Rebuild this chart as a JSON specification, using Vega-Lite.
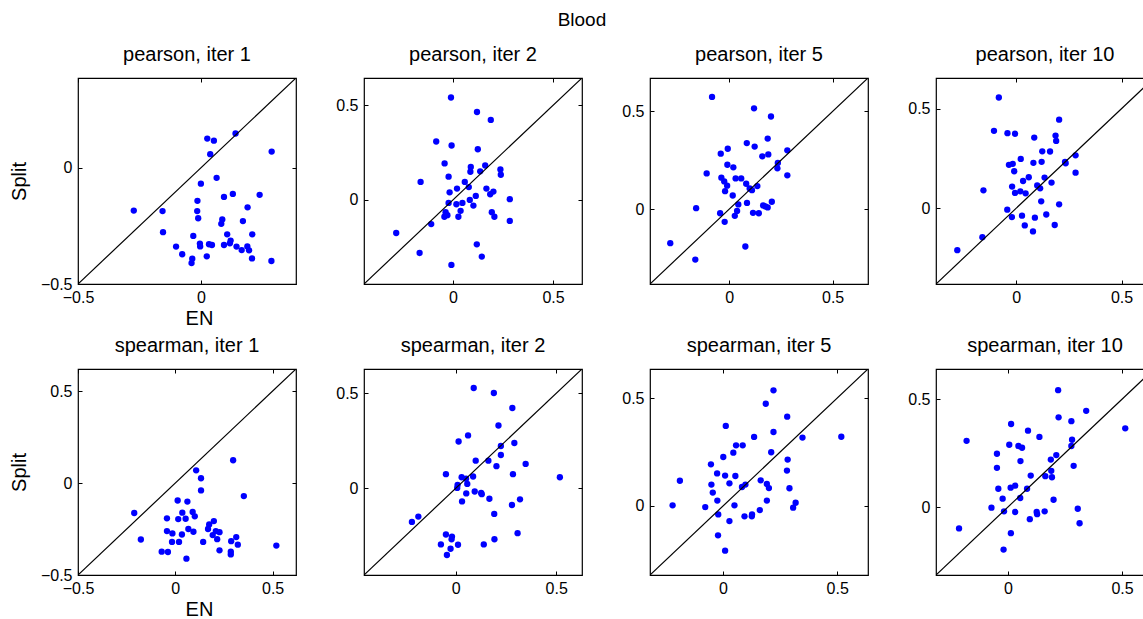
{
"$schema": "https://vega.github.io/schema/vega-lite/v6.json",
"autosize": {"type": "none"},
"padding": {"left": 78, "top": 78, "right": 1065, "bottom": 541},
"background": "white",
"title": {"text": "Blood", "anchor": "middle", "fontSize": 19, "offset": 14},
"datasets": {
"pts": [
{"panel":1,"EN":-0.273,"Split":-0.184},{"panel":1,"EN":-0.156,"Split":-0.186},{"panel":1,"EN":-0.154,"Split":-0.277},{"panel":1,"EN":-0.101,"Split":-0.339},{"panel":1,"EN":-0.076,"Split":-0.372},{"panel":1,"EN":-0.035,"Split":-0.391},{"panel":1,"EN":-0.038,"Split":-0.41},{"panel":1,"EN":-0.031,"Split":-0.293},{"panel":1,"EN":-0.004,"Split":-0.326},{"panel":1,"EN":-0.003,"Split":-0.338},{"panel":1,"EN":-0.015,"Split":-0.186},{"panel":1,"EN":-0.011,"Split":-0.217},{"panel":1,"EN":-0.014,"Split":-0.142},{"panel":1,"EN":0.0,"Split":-0.068},{"panel":1,"EN":0.026,"Split":0.126},{"panel":1,"EN":0.053,"Split":0.117},{"panel":1,"EN":0.038,"Split":0.059},{"panel":1,"EN":0.141,"Split":0.148},{"panel":1,"EN":0.064,"Split":-0.043},{"panel":1,"EN":0.024,"Split":-0.381},{"panel":1,"EN":0.033,"Split":-0.329},{"panel":1,"EN":0.045,"Split":-0.332},{"panel":1,"EN":0.094,"Split":-0.125},{"panel":1,"EN":0.13,"Split":-0.112},{"panel":1,"EN":0.087,"Split":-0.222},{"panel":1,"EN":0.083,"Split":-0.241},{"panel":1,"EN":0.107,"Split":-0.286},{"panel":1,"EN":0.094,"Split":-0.332},{"panel":1,"EN":0.121,"Split":-0.313},{"panel":1,"EN":0.118,"Split":-0.325},{"panel":1,"EN":0.145,"Split":-0.339},{"panel":1,"EN":0.166,"Split":-0.354},{"panel":1,"EN":0.171,"Split":-0.229},{"panel":1,"EN":0.19,"Split":-0.17},{"panel":1,"EN":0.189,"Split":-0.338},{"panel":1,"EN":0.196,"Split":-0.355},{"panel":1,"EN":0.208,"Split":-0.39},{"panel":1,"EN":0.209,"Split":-0.286},{"panel":1,"EN":0.239,"Split":-0.116},{"panel":1,"EN":0.287,"Split":-0.401},{"panel":1,"EN":0.288,"Split":0.07},
{"panel":2,"EN":-0.01,"Split":0.542},{"panel":2,"EN":0.12,"Split":0.465},{"panel":2,"EN":0.189,"Split":0.423},{"panel":2,"EN":-0.084,"Split":0.309},{"panel":2,"EN":-0.007,"Split":0.288},{"panel":2,"EN":0.124,"Split":0.268},{"panel":2,"EN":-0.042,"Split":0.193},{"panel":2,"EN":0.089,"Split":0.174},{"panel":2,"EN":0.087,"Split":0.149},{"panel":2,"EN":0.161,"Split":0.182},{"panel":2,"EN":0.136,"Split":0.151},{"panel":2,"EN":0.237,"Split":0.161},{"panel":2,"EN":0.239,"Split":0.133},{"panel":2,"EN":-0.022,"Split":0.123},{"panel":2,"EN":-0.162,"Split":0.095},{"panel":2,"EN":0.059,"Split":0.095},{"panel":2,"EN":0.079,"Split":0.068},{"panel":2,"EN":0.02,"Split":0.06},{"panel":2,"EN":0.167,"Split":0.06},{"panel":2,"EN":-0.017,"Split":0.04},{"panel":2,"EN":0.186,"Split":0.03},{"panel":2,"EN":0.202,"Split":0.044},{"panel":2,"EN":0.114,"Split":0.021},{"panel":2,"EN":0.084,"Split":0.0},{"panel":2,"EN":0.284,"Split":0.004},{"panel":2,"EN":-0.022,"Split":-0.016},{"panel":2,"EN":0.017,"Split":-0.023},{"panel":2,"EN":0.047,"Split":-0.016},{"panel":2,"EN":0.102,"Split":-0.03},{"panel":2,"EN":0.038,"Split":-0.058},{"panel":2,"EN":-0.037,"Split":-0.065},{"panel":2,"EN":-0.028,"Split":-0.081},{"panel":2,"EN":-0.043,"Split":-0.089},{"panel":2,"EN":0.027,"Split":-0.089},{"panel":2,"EN":0.194,"Split":-0.065},{"panel":2,"EN":0.207,"Split":-0.089},{"panel":2,"EN":0.284,"Split":-0.111},{"panel":2,"EN":-0.109,"Split":-0.128},{"panel":2,"EN":-0.284,"Split":-0.175},{"panel":2,"EN":-0.167,"Split":-0.281},{"panel":2,"EN":0.119,"Split":-0.235},{"panel":2,"EN":0.144,"Split":-0.3},{"panel":2,"EN":-0.008,"Split":-0.344},
{"panel":3,"EN":-0.083,"Split":0.574},{"panel":3,"EN":0.12,"Split":0.516},{"panel":3,"EN":0.202,"Split":0.474},{"panel":3,"EN":0.186,"Split":0.361},{"panel":3,"EN":0.085,"Split":0.338},{"panel":3,"EN":0.123,"Split":0.32},{"panel":3,"EN":-0.007,"Split":0.309},{"panel":3,"EN":-0.041,"Split":0.284},{"panel":3,"EN":0.281,"Split":0.301},{"panel":3,"EN":0.16,"Split":0.27},{"panel":3,"EN":0.189,"Split":0.28},{"panel":3,"EN":0.235,"Split":0.236},{"panel":3,"EN":0.233,"Split":0.209},{"panel":3,"EN":0.281,"Split":0.173},{"panel":3,"EN":-0.009,"Split":0.227},{"panel":3,"EN":0.02,"Split":0.214},{"panel":3,"EN":-0.109,"Split":0.183},{"panel":3,"EN":-0.038,"Split":0.161},{"panel":3,"EN":0.031,"Split":0.157},{"panel":3,"EN":0.058,"Split":0.157},{"panel":3,"EN":-0.024,"Split":0.142},{"panel":3,"EN":-0.01,"Split":0.12},{"panel":3,"EN":0.082,"Split":0.13},{"panel":3,"EN":0.136,"Split":0.118},{"panel":3,"EN":0.099,"Split":0.106},{"panel":3,"EN":0.11,"Split":0.097},{"panel":3,"EN":-0.02,"Split":0.092},{"panel":3,"EN":0.017,"Split":0.07},{"panel":3,"EN":0.086,"Split":0.032},{"panel":3,"EN":0.044,"Split":0.024},{"panel":3,"EN":0.164,"Split":0.019},{"panel":3,"EN":0.175,"Split":0.014},{"panel":3,"EN":0.206,"Split":0.038},{"panel":3,"EN":0.186,"Split":0.009},{"panel":3,"EN":-0.16,"Split":0.005},{"panel":3,"EN":0.038,"Split":-0.009},{"panel":3,"EN":-0.044,"Split":-0.021},{"panel":3,"EN":0.115,"Split":-0.019},{"panel":3,"EN":0.143,"Split":-0.021},{"panel":3,"EN":0.027,"Split":-0.034},{"panel":3,"EN":-0.022,"Split":-0.065},{"panel":3,"EN":0.078,"Split":-0.191},{"panel":3,"EN":-0.285,"Split":-0.174},{"panel":3,"EN":-0.164,"Split":-0.258},
{"panel":4,"EN":-0.082,"Split":0.556},{"panel":4,"EN":0.204,"Split":0.445},{"panel":4,"EN":-0.105,"Split":0.389},{"panel":4,"EN":-0.041,"Split":0.377},{"panel":4,"EN":-0.005,"Split":0.374},{"panel":4,"EN":0.086,"Split":0.355},{"panel":4,"EN":0.187,"Split":0.365},{"panel":4,"EN":0.19,"Split":0.338},{"panel":4,"EN":0.124,"Split":0.286},{"panel":4,"EN":0.161,"Split":0.285},{"panel":4,"EN":0.282,"Split":0.266},{"panel":4,"EN":0.022,"Split":0.248},{"panel":4,"EN":-0.034,"Split":0.218},{"panel":4,"EN":-0.016,"Split":0.223},{"panel":4,"EN":0.082,"Split":0.228},{"panel":4,"EN":0.121,"Split":0.233},{"panel":4,"EN":0.232,"Split":0.233},{"panel":4,"EN":0.235,"Split":0.226},{"panel":4,"EN":-0.009,"Split":0.186},{"panel":4,"EN":0.282,"Split":0.179},{"panel":4,"EN":0.06,"Split":0.156},{"panel":4,"EN":0.135,"Split":0.154},{"panel":4,"EN":0.033,"Split":0.137},{"panel":4,"EN":0.168,"Split":0.129},{"panel":4,"EN":-0.019,"Split":0.109},{"panel":4,"EN":0.1,"Split":0.115},{"panel":4,"EN":0.114,"Split":0.1},{"panel":4,"EN":-0.155,"Split":0.09},{"panel":4,"EN":-0.005,"Split":0.077},{"panel":4,"EN":0.02,"Split":0.085},{"panel":4,"EN":0.045,"Split":0.075},{"panel":4,"EN":0.119,"Split":0.035},{"panel":4,"EN":0.204,"Split":0.02},{"panel":4,"EN":-0.042,"Split":-0.007},{"panel":4,"EN":-0.02,"Split":-0.044},{"panel":4,"EN":0.028,"Split":-0.037},{"panel":4,"EN":0.089,"Split":-0.047},{"panel":4,"EN":0.143,"Split":-0.031},{"panel":4,"EN":0.041,"Split":-0.086},{"panel":4,"EN":0.183,"Split":-0.084},{"panel":4,"EN":0.08,"Split":-0.116},{"panel":4,"EN":-0.16,"Split":-0.145},{"panel":4,"EN":-0.279,"Split":-0.21},
{"panel":5,"EN":0.297,"Split":0.124},{"panel":5,"EN":0.107,"Split":0.069},{"panel":5,"EN":0.132,"Split":0.026},{"panel":5,"EN":0.132,"Split":-0.04},{"panel":5,"EN":0.352,"Split":-0.071},{"panel":5,"EN":0.012,"Split":-0.095},{"panel":5,"EN":0.062,"Split":-0.101},{"panel":5,"EN":-0.211,"Split":-0.163},{"panel":5,"EN":0.036,"Split":-0.161},{"panel":5,"EN":0.089,"Split":-0.157},{"panel":5,"EN":0.1,"Split":-0.181},{"panel":5,"EN":-0.043,"Split":-0.192},{"panel":5,"EN":0.015,"Split":-0.196},{"panel":5,"EN":0.053,"Split":-0.194},{"panel":5,"EN":0.198,"Split":-0.207},{"panel":5,"EN":0.174,"Split":-0.225},{"panel":5,"EN":0.168,"Split":-0.25},{"panel":5,"EN":0.208,"Split":-0.261},{"panel":5,"EN":0.227,"Split":-0.267},{"panel":5,"EN":0.067,"Split":-0.25},{"panel":5,"EN":0.093,"Split":-0.265},{"panel":5,"EN":-0.043,"Split":-0.261},{"panel":5,"EN":-0.015,"Split":-0.274},{"panel":5,"EN":0.034,"Split":-0.28},{"panel":5,"EN":0.192,"Split":-0.283},{"panel":5,"EN":0.215,"Split":-0.305},{"panel":5,"EN":0.313,"Split":-0.294},{"panel":5,"EN":0.287,"Split":-0.316},{"panel":5,"EN":0.321,"Split":-0.335},{"panel":5,"EN":-0.177,"Split":-0.307},{"panel":5,"EN":-0.017,"Split":-0.32},{"panel":5,"EN":0.019,"Split":-0.32},{"panel":5,"EN":0.143,"Split":-0.32},{"panel":5,"EN":0.227,"Split":-0.366},{"panel":5,"EN":0.285,"Split":-0.373},{"panel":5,"EN":0.285,"Split":-0.388},{"panel":5,"EN":-0.07,"Split":-0.373},{"panel":5,"EN":-0.038,"Split":-0.375},{"panel":5,"EN":0.057,"Split":-0.411},{"panel":5,"EN":0.519,"Split":-0.34},
{"panel":6,"EN":0.09,"Split":0.528},{"panel":6,"EN":0.19,"Split":0.502},{"panel":6,"EN":0.282,"Split":0.423},{"panel":6,"EN":0.213,"Split":0.331},{"panel":6,"EN":0.062,"Split":0.279},{"panel":6,"EN":0.015,"Split":0.247},{"panel":6,"EN":0.292,"Split":0.239},{"panel":6,"EN":0.225,"Split":0.223},{"panel":6,"EN":0.225,"Split":0.176},{"panel":6,"EN":0.1,"Split":0.146},{"panel":6,"EN":0.163,"Split":0.146},{"panel":6,"EN":0.203,"Split":0.117},{"panel":6,"EN":0.348,"Split":0.129},{"panel":6,"EN":-0.048,"Split":0.075},{"panel":6,"EN":0.285,"Split":0.075},{"panel":6,"EN":0.518,"Split":0.059},{"panel":6,"EN":0.03,"Split":0.059},{"panel":6,"EN":0.087,"Split":0.063},{"panel":6,"EN":0.052,"Split":0.051},{"panel":6,"EN":0.058,"Split":0.024},{"panel":6,"EN":0.01,"Split":0.019},{"panel":6,"EN":0.008,"Split":0.003},{"panel":6,"EN":0.095,"Split":-0.016},{"panel":6,"EN":0.127,"Split":-0.024},{"panel":6,"EN":0.13,"Split":-0.03},{"panel":6,"EN":0.053,"Split":-0.026},{"panel":6,"EN":0.168,"Split":-0.054},{"panel":6,"EN":0.032,"Split":-0.068},{"panel":6,"EN":0.28,"Split":-0.087},{"panel":6,"EN":0.32,"Split":-0.057},{"panel":6,"EN":0.192,"Split":-0.134},{"panel":6,"EN":-0.185,"Split":-0.148},{"panel":6,"EN":-0.217,"Split":-0.176},{"panel":6,"EN":-0.048,"Split":-0.242},{"panel":6,"EN":-0.018,"Split":-0.253},{"panel":6,"EN":-0.02,"Split":-0.267},{"panel":6,"EN":0.308,"Split":-0.235},{"panel":6,"EN":0.193,"Split":-0.267},{"panel":6,"EN":-0.073,"Split":-0.294},{"panel":6,"EN":0.012,"Split":-0.296},{"panel":6,"EN":0.14,"Split":-0.294},{"panel":6,"EN":-0.025,"Split":-0.317},{"panel":6,"EN":-0.043,"Split":-0.35},
{"panel":7,"EN":0.221,"Split":0.536},{"panel":7,"EN":0.187,"Split":0.474},{"panel":7,"EN":0.281,"Split":0.414},{"panel":7,"EN":0.012,"Split":0.371},{"panel":7,"EN":0.221,"Split":0.343},{"panel":7,"EN":0.136,"Split":0.32},{"panel":7,"EN":0.348,"Split":0.317},{"panel":7,"EN":0.518,"Split":0.321},{"panel":7,"EN":0.057,"Split":0.281},{"panel":7,"EN":0.086,"Split":0.281},{"panel":7,"EN":0.045,"Split":0.247},{"panel":7,"EN":0.211,"Split":0.249},{"panel":7,"EN":0.001,"Split":0.227},{"panel":7,"EN":0.283,"Split":0.215},{"panel":7,"EN":-0.053,"Split":0.193},{"panel":7,"EN":-0.026,"Split":0.151},{"panel":7,"EN":0.009,"Split":0.141},{"panel":7,"EN":0.054,"Split":0.139},{"panel":7,"EN":0.28,"Split":0.164},{"panel":7,"EN":-0.189,"Split":0.117},{"panel":7,"EN":0.165,"Split":0.119},{"panel":7,"EN":0.028,"Split":0.105},{"panel":7,"EN":-0.051,"Split":0.099},{"panel":7,"EN":0.098,"Split":0.099},{"panel":7,"EN":0.083,"Split":0.088},{"panel":7,"EN":0.192,"Split":0.102},{"panel":7,"EN":0.201,"Split":0.083},{"panel":7,"EN":0.291,"Split":0.082},{"panel":7,"EN":-0.045,"Split":0.062},{"panel":7,"EN":-0.025,"Split":0.025},{"panel":7,"EN":0.192,"Split":0.025},{"panel":7,"EN":0.318,"Split":0.015},{"panel":7,"EN":-0.221,"Split":0.003},{"panel":7,"EN":-0.078,"Split":-0.005},{"panel":7,"EN":0.05,"Split":0.003},{"panel":7,"EN":0.307,"Split":-0.008},{"panel":7,"EN":0.161,"Split":-0.019},{"panel":7,"EN":-0.021,"Split":-0.039},{"panel":7,"EN":0.094,"Split":-0.048},{"panel":7,"EN":0.126,"Split":-0.048},{"panel":7,"EN":0.127,"Split":-0.039},{"panel":7,"EN":0.028,"Split":-0.07},{"panel":7,"EN":-0.022,"Split":-0.136},{"panel":7,"EN":0.009,"Split":-0.207},
{"panel":8,"EN":0.22,"Split":0.542},{"panel":8,"EN":0.343,"Split":0.446},{"panel":8,"EN":0.222,"Split":0.416},{"panel":8,"EN":0.278,"Split":0.398},{"panel":8,"EN":0.514,"Split":0.365},{"panel":8,"EN":0.014,"Split":0.385},{"panel":8,"EN":0.088,"Split":0.354},{"panel":8,"EN":0.138,"Split":0.325},{"panel":8,"EN":0.281,"Split":0.312},{"panel":8,"EN":-0.181,"Split":0.307},{"panel":8,"EN":0.006,"Split":0.289},{"panel":8,"EN":0.046,"Split":0.283},{"panel":8,"EN":0.062,"Split":0.275},{"panel":8,"EN":0.278,"Split":0.283},{"panel":8,"EN":-0.048,"Split":0.247},{"panel":8,"EN":0.212,"Split":0.241},{"panel":8,"EN":0.188,"Split":0.22},{"panel":8,"EN":0.055,"Split":0.213},{"panel":8,"EN":0.288,"Split":0.191},{"panel":8,"EN":-0.048,"Split":0.182},{"panel":8,"EN":0.19,"Split":0.168},{"panel":8,"EN":0.1,"Split":0.146},{"panel":8,"EN":0.164,"Split":0.143},{"panel":8,"EN":0.193,"Split":0.138},{"panel":8,"EN":-0.042,"Split":0.085},{"panel":8,"EN":0.012,"Split":0.09},{"panel":8,"EN":0.032,"Split":0.099},{"panel":8,"EN":0.084,"Split":0.085},{"panel":8,"EN":-0.023,"Split":0.039},{"panel":8,"EN":0.054,"Split":0.042},{"panel":8,"EN":0.2,"Split":0.034},{"panel":8,"EN":-0.072,"Split":-0.003},{"panel":8,"EN":-0.017,"Split":-0.02},{"panel":8,"EN":0.032,"Split":-0.023},{"panel":8,"EN":0.126,"Split":-0.023},{"panel":8,"EN":0.128,"Split":-0.033},{"panel":8,"EN":0.161,"Split":-0.02},{"panel":8,"EN":0.306,"Split":-0.008},{"panel":8,"EN":0.096,"Split":-0.056},{"panel":8,"EN":0.314,"Split":-0.075},{"panel":8,"EN":-0.214,"Split":-0.099},{"panel":8,"EN":0.013,"Split":-0.121},{"panel":8,"EN":-0.019,"Split":-0.197}
],
"diag": [
{"panel":1,"lo":-0.5,"hi":0.387},{"panel":2,"lo":-0.445,"hi":0.645},{"panel":3,"lo":-0.383,"hi":0.671},{"panel":4,"lo":-0.38,"hi":0.654},
{"panel":5,"lo":-0.5,"hi":0.62},{"panel":6,"lo":-0.455,"hi":0.628},{"panel":7,"lo":-0.32,"hi":0.635},{"panel":8,"lo":-0.315,"hi":0.64}
]
},
"columns": 4,
"spacing": {"row": 85, "column": 68},
"bounds": "flush",
"concat": [
{"title": "pearson, iter 1", "width": 218, "height": 206,
 "layer": [
  {"data": {"name": "pts"}, "transform": [{"filter": "datum.panel == 1"}], "mark": {"type": "circle", "size": 40, "color": "#0000ff", "opacity": 1},
   "encoding": {"x": {"field": "EN", "type": "quantitative", "scale": {"domain": [-0.5, 0.387], "nice": false, "zero": false}, "axis": {"values": [-0.5, 0], "format": ".1~f", "title": "EN", "titleX": 121}},
                "y": {"field": "Split", "type": "quantitative", "scale": {"domain": [-0.5, 0.387], "nice": false, "zero": false}, "axis": {"values": [-0.5, 0], "format": ".1~f", "title": "Split"}}}},
  {"data": {"name": "diag"}, "transform": [{"filter": "datum.panel == 1"}], "mark": {"type": "rule", "color": "black", "strokeWidth": 1.2, "clip": true},
   "encoding": {"x": {"field": "lo", "type": "quantitative", "scale": {"domain": [-0.5, 0.387], "nice": false, "zero": false}, "axis": {"orient": "top", "values": [-0.5, 0], "labels": false, "title": null}},
                "y": {"field": "lo", "type": "quantitative", "scale": {"domain": [-0.5, 0.387], "nice": false, "zero": false}, "axis": {"orient": "right", "values": [-0.5, 0], "labels": false, "title": null}},
                "x2": {"field": "hi"}, "y2": {"field": "hi"}}}
 ], "resolve": {"axis": {"x": "independent", "y": "independent"}}},
{"title": "pearson, iter 2", "width": 218, "height": 206,
 "layer": [
  {"data": {"name": "pts"}, "transform": [{"filter": "datum.panel == 2"}], "mark": {"type": "circle", "size": 40, "color": "#0000ff", "opacity": 1},
   "encoding": {"x": {"field": "EN", "type": "quantitative", "scale": {"domain": [-0.445, 0.645], "nice": false, "zero": false}, "axis": {"values": [0, 0.5], "format": ".1~f", "title": null}},
                "y": {"field": "Split", "type": "quantitative", "scale": {"domain": [-0.445, 0.645], "nice": false, "zero": false}, "axis": {"values": [0, 0.5], "format": ".1~f", "title": null}}}},
  {"data": {"name": "diag"}, "transform": [{"filter": "datum.panel == 2"}], "mark": {"type": "rule", "color": "black", "strokeWidth": 1.2, "clip": true},
   "encoding": {"x": {"field": "lo", "type": "quantitative", "scale": {"domain": [-0.445, 0.645], "nice": false, "zero": false}, "axis": {"orient": "top", "values": [0, 0.5], "labels": false, "title": null}},
                "y": {"field": "lo", "type": "quantitative", "scale": {"domain": [-0.445, 0.645], "nice": false, "zero": false}, "axis": {"orient": "right", "values": [0, 0.5], "labels": false, "title": null}},
                "x2": {"field": "hi"}, "y2": {"field": "hi"}}}
 ], "resolve": {"axis": {"x": "independent", "y": "independent"}}},
{"title": "pearson, iter 5", "width": 218, "height": 206,
 "layer": [
  {"data": {"name": "pts"}, "transform": [{"filter": "datum.panel == 3"}], "mark": {"type": "circle", "size": 40, "color": "#0000ff", "opacity": 1},
   "encoding": {"x": {"field": "EN", "type": "quantitative", "scale": {"domain": [-0.383, 0.671], "nice": false, "zero": false}, "axis": {"values": [0, 0.5], "format": ".1~f", "title": null}},
                "y": {"field": "Split", "type": "quantitative", "scale": {"domain": [-0.383, 0.671], "nice": false, "zero": false}, "axis": {"values": [0, 0.5], "format": ".1~f", "title": null}}}},
  {"data": {"name": "diag"}, "transform": [{"filter": "datum.panel == 3"}], "mark": {"type": "rule", "color": "black", "strokeWidth": 1.2, "clip": true},
   "encoding": {"x": {"field": "lo", "type": "quantitative", "scale": {"domain": [-0.383, 0.671], "nice": false, "zero": false}, "axis": {"orient": "top", "values": [0, 0.5], "labels": false, "title": null}},
                "y": {"field": "lo", "type": "quantitative", "scale": {"domain": [-0.383, 0.671], "nice": false, "zero": false}, "axis": {"orient": "right", "values": [0, 0.5], "labels": false, "title": null}},
                "x2": {"field": "hi"}, "y2": {"field": "hi"}}}
 ], "resolve": {"axis": {"x": "independent", "y": "independent"}}},
{"title": "pearson, iter 10", "width": 218, "height": 206,
 "layer": [
  {"data": {"name": "pts"}, "transform": [{"filter": "datum.panel == 4"}], "mark": {"type": "circle", "size": 40, "color": "#0000ff", "opacity": 1},
   "encoding": {"x": {"field": "EN", "type": "quantitative", "scale": {"domain": [-0.38, 0.654], "nice": false, "zero": false}, "axis": {"values": [0, 0.5], "format": ".1~f", "title": null}},
                "y": {"field": "Split", "type": "quantitative", "scale": {"domain": [-0.38, 0.654], "nice": false, "zero": false}, "axis": {"values": [0, 0.5], "format": ".1~f", "title": null}}}},
  {"data": {"name": "diag"}, "transform": [{"filter": "datum.panel == 4"}], "mark": {"type": "rule", "color": "black", "strokeWidth": 1.2, "clip": true},
   "encoding": {"x": {"field": "lo", "type": "quantitative", "scale": {"domain": [-0.38, 0.654], "nice": false, "zero": false}, "axis": {"orient": "top", "values": [0, 0.5], "labels": false, "title": null}},
                "y": {"field": "lo", "type": "quantitative", "scale": {"domain": [-0.38, 0.654], "nice": false, "zero": false}, "axis": {"orient": "right", "values": [0, 0.5], "labels": false, "title": null}},
                "x2": {"field": "hi"}, "y2": {"field": "hi"}}}
 ], "resolve": {"axis": {"x": "independent", "y": "independent"}}},
{"title": "spearman, iter 1", "width": 218, "height": 206,
 "layer": [
  {"data": {"name": "pts"}, "transform": [{"filter": "datum.panel == 5"}], "mark": {"type": "circle", "size": 40, "color": "#0000ff", "opacity": 1},
   "encoding": {"x": {"field": "EN", "type": "quantitative", "scale": {"domain": [-0.5, 0.62], "nice": false, "zero": false}, "axis": {"values": [-0.5, 0, 0.5], "format": ".1~f", "title": "EN", "titleX": 121}},
                "y": {"field": "Split", "type": "quantitative", "scale": {"domain": [-0.5, 0.62], "nice": false, "zero": false}, "axis": {"values": [-0.5, 0, 0.5], "format": ".1~f", "title": "Split"}}}},
  {"data": {"name": "diag"}, "transform": [{"filter": "datum.panel == 5"}], "mark": {"type": "rule", "color": "black", "strokeWidth": 1.2, "clip": true},
   "encoding": {"x": {"field": "lo", "type": "quantitative", "scale": {"domain": [-0.5, 0.62], "nice": false, "zero": false}, "axis": {"orient": "top", "values": [-0.5, 0, 0.5], "labels": false, "title": null}},
                "y": {"field": "lo", "type": "quantitative", "scale": {"domain": [-0.5, 0.62], "nice": false, "zero": false}, "axis": {"orient": "right", "values": [-0.5, 0, 0.5], "labels": false, "title": null}},
                "x2": {"field": "hi"}, "y2": {"field": "hi"}}}
 ], "resolve": {"axis": {"x": "independent", "y": "independent"}}},
{"title": "spearman, iter 2", "width": 218, "height": 206,
 "layer": [
  {"data": {"name": "pts"}, "transform": [{"filter": "datum.panel == 6"}], "mark": {"type": "circle", "size": 40, "color": "#0000ff", "opacity": 1},
   "encoding": {"x": {"field": "EN", "type": "quantitative", "scale": {"domain": [-0.455, 0.628], "nice": false, "zero": false}, "axis": {"values": [0, 0.5], "format": ".1~f", "title": null}},
                "y": {"field": "Split", "type": "quantitative", "scale": {"domain": [-0.455, 0.628], "nice": false, "zero": false}, "axis": {"values": [0, 0.5], "format": ".1~f", "title": null}}}},
  {"data": {"name": "diag"}, "transform": [{"filter": "datum.panel == 6"}], "mark": {"type": "rule", "color": "black", "strokeWidth": 1.2, "clip": true},
   "encoding": {"x": {"field": "lo", "type": "quantitative", "scale": {"domain": [-0.455, 0.628], "nice": false, "zero": false}, "axis": {"orient": "top", "values": [0, 0.5], "labels": false, "title": null}},
                "y": {"field": "lo", "type": "quantitative", "scale": {"domain": [-0.455, 0.628], "nice": false, "zero": false}, "axis": {"orient": "right", "values": [0, 0.5], "labels": false, "title": null}},
                "x2": {"field": "hi"}, "y2": {"field": "hi"}}}
 ], "resolve": {"axis": {"x": "independent", "y": "independent"}}},
{"title": "spearman, iter 5", "width": 218, "height": 206,
 "layer": [
  {"data": {"name": "pts"}, "transform": [{"filter": "datum.panel == 7"}], "mark": {"type": "circle", "size": 40, "color": "#0000ff", "opacity": 1},
   "encoding": {"x": {"field": "EN", "type": "quantitative", "scale": {"domain": [-0.32, 0.635], "nice": false, "zero": false}, "axis": {"values": [0, 0.5], "format": ".1~f", "title": null}},
                "y": {"field": "Split", "type": "quantitative", "scale": {"domain": [-0.32, 0.635], "nice": false, "zero": false}, "axis": {"values": [0, 0.5], "format": ".1~f", "title": null}}}},
  {"data": {"name": "diag"}, "transform": [{"filter": "datum.panel == 7"}], "mark": {"type": "rule", "color": "black", "strokeWidth": 1.2, "clip": true},
   "encoding": {"x": {"field": "lo", "type": "quantitative", "scale": {"domain": [-0.32, 0.635], "nice": false, "zero": false}, "axis": {"orient": "top", "values": [0, 0.5], "labels": false, "title": null}},
                "y": {"field": "lo", "type": "quantitative", "scale": {"domain": [-0.32, 0.635], "nice": false, "zero": false}, "axis": {"orient": "right", "values": [0, 0.5], "labels": false, "title": null}},
                "x2": {"field": "hi"}, "y2": {"field": "hi"}}}
 ], "resolve": {"axis": {"x": "independent", "y": "independent"}}},
{"title": "spearman, iter 10", "width": 218, "height": 206,
 "layer": [
  {"data": {"name": "pts"}, "transform": [{"filter": "datum.panel == 8"}], "mark": {"type": "circle", "size": 40, "color": "#0000ff", "opacity": 1},
   "encoding": {"x": {"field": "EN", "type": "quantitative", "scale": {"domain": [-0.315, 0.64], "nice": false, "zero": false}, "axis": {"values": [0, 0.5], "format": ".1~f", "title": null}},
                "y": {"field": "Split", "type": "quantitative", "scale": {"domain": [-0.315, 0.64], "nice": false, "zero": false}, "axis": {"values": [0, 0.5], "format": ".1~f", "title": null}}}},
  {"data": {"name": "diag"}, "transform": [{"filter": "datum.panel == 8"}], "mark": {"type": "rule", "color": "black", "strokeWidth": 1.2, "clip": true},
   "encoding": {"x": {"field": "lo", "type": "quantitative", "scale": {"domain": [-0.315, 0.64], "nice": false, "zero": false}, "axis": {"orient": "top", "values": [0, 0.5], "labels": false, "title": null}},
                "y": {"field": "lo", "type": "quantitative", "scale": {"domain": [-0.315, 0.64], "nice": false, "zero": false}, "axis": {"orient": "right", "values": [0, 0.5], "labels": false, "title": null}},
                "x2": {"field": "hi"}, "y2": {"field": "hi"}}}
 ], "resolve": {"axis": {"x": "independent", "y": "independent"}}}
],
"config": {
 "font": "Liberation Sans",
 "view": {"stroke": "black", "strokeWidth": 1.2},
 "axis": {"domain": false, "grid": false, "tickColor": "black", "tickSize": -4, "tickWidth": 1, "labelFlush": false, "labelOverlap": false,
          "labelFont": "Liberation Sans", "labelFontSize": 16, "labelColor": "black",
          "titleFont": "Liberation Sans", "titleFontSize": 20, "titleFontWeight": "normal", "titleColor": "black"},
 "axisX": {"labelPadding": 9, "titlePadding": 3},
 "axisY": {"labelPadding": 10, "titlePadding": 11},
 "title": {"font": "Liberation Sans", "fontSize": 20, "fontWeight": "normal", "color": "black", "offset": 13}
}
}
